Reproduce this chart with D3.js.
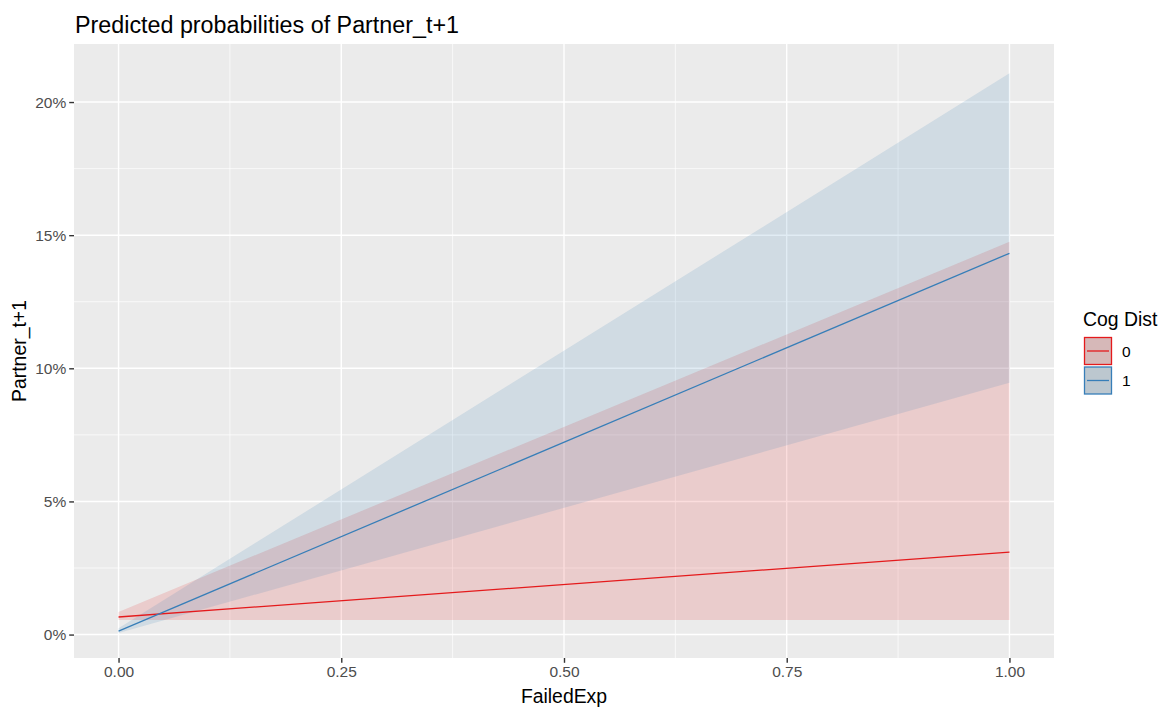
<!DOCTYPE html>
<html>
<head>
<meta charset="utf-8">
<script src="https://cdn.jsdelivr.net/npm/d3@7"></script>
<style>
  body { margin: 0; background: #fff; }
  text { font-family: "Liberation Sans", Arial, sans-serif; }
</style>
</head>
<body>
<svg id="chart" width="1165" height="707"></svg>
<script>
// ---- data ----
const xValues = [0, 1];
const groups = ["0", "1"];
const groupColors = ["#E41A1C", "#377EB8"];
const predicted0 = [0.0066, 0.0310];
const lower0 = [0.0055, 0.0055];
const upper0 = [0.0085, 0.1475];
const predicted1 = [0.0013, 0.1432];
const lower1 = [0.0006, 0.0946];
const upper1 = [0.0024, 0.2108];
const xTicks = [0, 0.25, 0.5, 0.75, 1];
const xTickLabels = ["0.00", "0.25", "0.50", "0.75", "1.00"];
const yTicks = [0, 0.05, 0.10, 0.15, 0.20];
const yTickLabels = ["0%", "5%", "10%", "15%", "20%"];
const xMinor = [0.125, 0.375, 0.625, 0.875];
const yMinor = [0.025, 0.075, 0.125, 0.175];
const xLimits = [-0.05, 1.05];
const yLimits = [-0.0088, 0.2218];

const series = [
  { key: groups[0], color: groupColors[0], pred: predicted0, lo: lower0, hi: upper0 },
  { key: groups[1], color: groupColors[1], pred: predicted1, lo: lower1, hi: upper1 }
];

const svg = d3.select("#chart");
const panel = { left: 74, right: 1054, top: 44, bottom: 658 };

const x = d3.scaleLinear().domain(xLimits).range([panel.left, panel.right]);
const y = d3.scaleLinear().domain(yLimits).range([panel.bottom, panel.top]);

// panel background
svg.append("rect")
  .attr("x", panel.left).attr("y", panel.top)
  .attr("width", panel.right - panel.left).attr("height", panel.bottom - panel.top)
  .attr("fill", "#EBEBEB");

const grid = svg.append("g");
// minor grid
grid.selectAll(".xminor").data(xMinor).join("line")
  .attr("x1", d => x(d)).attr("x2", d => x(d))
  .attr("y1", panel.top).attr("y2", panel.bottom)
  .attr("stroke", "#fff").attr("stroke-width", 0.7);
grid.selectAll(".yminor").data(yMinor).join("line")
  .attr("y1", d => y(d)).attr("y2", d => y(d))
  .attr("x1", panel.left).attr("x2", panel.right)
  .attr("stroke", "#fff").attr("stroke-width", 0.7);
// major grid
grid.selectAll(".xmajor").data(xTicks).join("line")
  .attr("x1", d => x(d)).attr("x2", d => x(d))
  .attr("y1", panel.top).attr("y2", panel.bottom)
  .attr("stroke", "#fff").attr("stroke-width", 1.4);
grid.selectAll(".ymajor").data(yTicks).join("line")
  .attr("y1", d => y(d)).attr("y2", d => y(d))
  .attr("x1", panel.left).attr("x2", panel.right)
  .attr("stroke", "#fff").attr("stroke-width", 1.4);

// ribbons
const area = d3.area()
  .x((d, i) => x(xValues[i]))
  .y0(d => y(d[0]))
  .y1(d => y(d[1]));
series.forEach(s => {
  const pts = xValues.map((_, i) => [s.lo[i], s.hi[i]]);
  svg.append("path").datum(pts)
    .attr("d", area)
    .attr("fill", s.color).attr("fill-opacity", 0.15);
});
// lines
const line = d3.line().x((d, i) => x(xValues[i])).y(d => y(d));
series.forEach(s => {
  svg.append("path").datum(s.pred)
    .attr("d", line)
    .attr("fill", "none").attr("stroke", s.color).attr("stroke-width", 1.3);
});

// axes
const xAxis = d3.axisBottom(x).tickValues(xTicks).tickFormat((d, i) => xTickLabels[i])
  .tickSizeInner(4.8).tickSizeOuter(0).tickPadding(3);
const gx = svg.append("g").attr("transform", `translate(0,${panel.bottom})`).call(xAxis);
gx.select(".domain").remove();
gx.selectAll("line").attr("stroke", "#333333").attr("stroke-width", 1.4);
gx.selectAll("text").attr("fill", "#4D4D4D").style("font-size", "15.5px")
  .style("font-family", "'Liberation Sans', Arial, sans-serif");

const yAxis = d3.axisLeft(y).tickValues(yTicks).tickFormat((d, i) => yTickLabels[i])
  .tickSizeInner(4.8).tickSizeOuter(0).tickPadding(3);
const gy = svg.append("g").attr("transform", `translate(${panel.left},0)`).call(yAxis);
gy.select(".domain").remove();
gy.selectAll("line").attr("stroke", "#333333").attr("stroke-width", 1.4);
gy.selectAll("text").attr("fill", "#4D4D4D").style("font-size", "15.5px")
  .style("font-family", "'Liberation Sans', Arial, sans-serif");

// titles
svg.append("text").attr("x", 75).attr("y", 33)
  .style("font-size", "23.3px").attr("fill", "#000")
  .text("Predicted probabilities of Partner_t+1");
svg.append("text").attr("x", (panel.left + panel.right) / 2).attr("y", 703)
  .attr("text-anchor", "middle").style("font-size", "19.4px").attr("fill", "#000")
  .text("FailedExp");
svg.append("text")
  .attr("transform", `translate(26,${(panel.top + panel.bottom) / 2}) rotate(-90)`)
  .attr("text-anchor", "middle").style("font-size", "19.4px").attr("fill", "#000")
  .text("Partner_t+1");

// legend
const lg = svg.append("g").attr("transform", "translate(1083,0)");
lg.append("text").attr("x", 0).attr("y", 325.5).style("font-size", "19.4px").attr("fill", "#000")
  .text("Cog Dist");
series.forEach((s, i) => {
  const top = 337.5 + i * 29.5;
  lg.append("rect").attr("x", 1.5).attr("y", top).attr("width", 27).attr("height", 27)
    .attr("fill", "#D4D4D4");
  lg.append("rect").attr("x", 1.5).attr("y", top).attr("width", 27).attr("height", 27)
    .attr("fill", s.color).attr("fill-opacity", 0.15)
    .attr("stroke", s.color).attr("stroke-width", 1.3);
  lg.append("line").attr("x1", 4).attr("x2", 26).attr("y1", top + 13.5).attr("y2", top + 13.5)
    .attr("stroke", s.color).attr("stroke-width", 1.3);
  lg.append("text").attr("x", 39).attr("y", top + 13.5).attr("dy", "0.36em")
    .style("font-size", "15.5px").attr("fill", "#000").text(s.key);
});
</script>
</body>
</html>
